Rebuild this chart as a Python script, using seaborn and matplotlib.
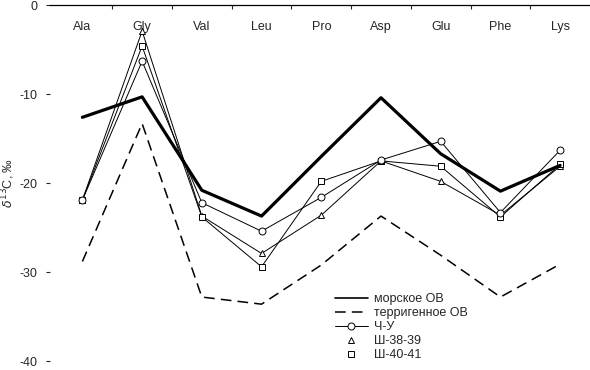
import numpy as np
import pandas as pd
import matplotlib
matplotlib.use('Agg')
import matplotlib.pyplot as plt
from matplotlib.ticker import FixedLocator
import seaborn as sns

# аминокислоты
amino = ['Ala', 'Gly', 'Val', 'Leu', 'Pro', 'Asp', 'Glu', 'Phe', 'Lys']

# d13C, ‰
marine = [-12.6, -10.3, -20.8, -23.7, -17.0, -10.4, -16.7, -20.9, -18.0]
terrig = [-28.8, -13.3, -32.8, -33.6, -29.2, -23.7, -28.1, -32.8, -29.1]
chu = [-21.9, -6.3, -22.2, -25.4, -21.6, -17.4, -15.3, -23.3, -16.3]
sh3839 = [-21.9, -2.9, -23.7, -27.9, -23.6, -17.5, -19.8, -23.6, -18.1]
sh4041 = [-21.9, -4.6, -23.8, -29.4, -19.8, -17.5, -18.1, -23.8, -17.9]

sns.set_style('white')
plt.rcParams['font.family'] = ['Liberation Sans', 'DejaVu Sans']

df = pd.DataFrame({'aa': amino, 'marine': marine, 'terrig': terrig,
                   'chu': chu, 'sh3839': sh3839, 'sh4041': sh4041})

fig, ax = plt.subplots(figsize=(5.9, 3.7), dpi=100)
fig.subplots_adjust(left=0.085, right=1.0, top=0.986, bottom=0.024)

sns.lineplot(data=df, x='aa', y='sh3839', ax=ax, color='black', lw=0.7,
             marker='^', ms=5, mfc='white', mec='black', mew=0.7, label='Ш-38-39')
sns.lineplot(data=df, x='aa', y='sh4041', ax=ax, color='black', lw=0.7,
             marker='s', ms=4.5, mfc='white', mec='black', mew=0.7, label='Ш-40-41')
sns.lineplot(data=df, x='aa', y='chu', ax=ax, color='black', lw=0.7,
             marker='o', ms=5, mfc='white', mec='black', mew=0.7, label='Ч-У')
sns.lineplot(data=df, x='aa', y='marine', ax=ax, color='black', lw=2.3,
             label='морское ОВ')
sns.lineplot(data=df, x='aa', y='terrig', ax=ax, color='black', lw=1.1,
             dashes=False, label='терригенное ОВ')
ax.lines[-1].set_dashes([7, 4])

# легенда
h, l = ax.get_legend_handles_labels()
order = ['морское ОВ', 'терригенное ОВ', 'Ч-У', 'Ш-38-39', 'Ш-40-41']
hh = [h[l.index(o)] for o in order]
leg = ax.legend(hh, order, loc='upper left', bbox_to_anchor=(0.528, 0.19),
                frameon=False, fontsize=9, handlelength=2.6, handletextpad=0.5,
                labelspacing=0.15, borderaxespad=0, borderpad=0)
leg.legend_handles[0].set_linewidth(1.2)
for lh in leg.legend_handles[3:]:
    lh.set_linestyle('none')

ax.set_ylim(-40, 0)
ax.set_xlim(-0.54, 8.5)
ax.set_yticks([0, -10, -20, -30, -40])
ax.set_yticklabels(['0', '-10', '-20', '-30', '-40'])
ax.set_ylabel(r'$\delta^{13}$C, ‰', fontsize=9, labelpad=2)
ax.set_xlabel('')

# ось X сверху, подписи внутри
ax.xaxis.tick_top()
ax.xaxis.set_minor_locator(FixedLocator(np.arange(0.5, 8.5, 1)))
ax.tick_params(axis='x', which='major', length=0, pad=-20, labelsize=9)
ax.tick_params(axis='x', which='minor', top=True, direction='in', length=3, width=0.8)
ax.tick_params(axis='y', left=True, direction='out', length=3, width=0.8,
               labelsize=9, pad=6)

for s in ['left', 'right', 'bottom']:
    ax.spines[s].set_visible(False)
ax.spines['top'].set_linewidth(0.9)
ax.spines['top'].set_color('black')

plt.savefig('out.png', dpi=100)
